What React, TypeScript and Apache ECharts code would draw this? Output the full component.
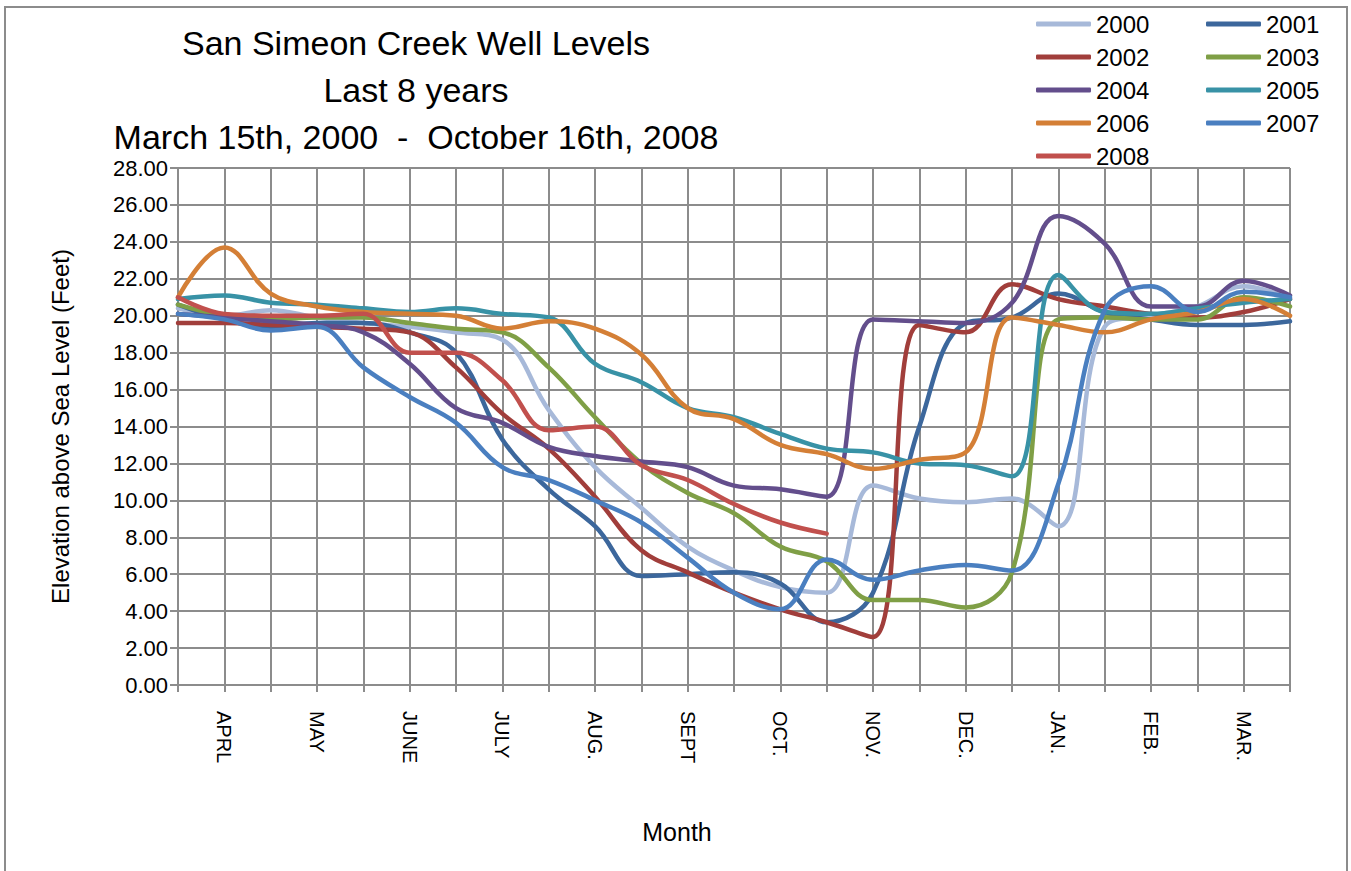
import React, { useEffect, useRef } from "react";
import * as echarts from "echarts";

const monthLabels = ["", "APRL", "", "MAY", "", "JUNE", "", "JULY", "", "AUG.", "", "SEPT", "", "OCT.", "", "NOV.", "", "DEC.", "", "JAN.", "", "FEB.", "", "MAR.", ""];

const y2000 = [20.4, 20.0, 20.3, 19.9, 19.6, 19.4, 19.1, 18.7, 14.9, 11.8, 9.6, 7.5, 6.2, 5.3, 5.0, 10.8, 10.1, 9.9, 10.1, 8.6, 19.4, 20.0, 20.5, 21.6, 20.9];
const y2001 = [20.6, 19.8, 19.4, 19.6, 19.6, 19.1, 18.0, 13.3, 10.6, 8.6, 5.9, 6.0, 6.1, 5.5, 3.4, 5.0, 14.0, 19.6, 19.9, 21.2, 20.2, 19.8, 19.5, 19.5, 19.7];
const y2002 = [19.6, 19.6, 19.5, 19.4, 19.3, 19.1, 17.2, 14.7, 12.8, 10.2, 7.3, 6.1, 5.0, 4.1, 3.4, 2.6, 19.5, 19.1, 21.7, 20.9, 20.5, 20.1, 19.9, 20.2, 20.9];
const y2003 = [20.6, 20.0, 19.8, 19.9, 19.9, 19.6, 19.3, 19.1, 17.2, 14.5, 12.0, 10.4, 9.3, 7.5, 6.7, 4.6, 4.6, 4.2, 6.1, 19.8, 19.9, 19.8, 19.8, 21.0, 20.5];
const y2004 = [20.1, 19.9, 19.7, 19.5, 19.1, 17.4, 15.0, 14.2, 12.9, 12.4, 12.1, 11.8, 10.8, 10.6, 10.2, 19.8, 19.7, 19.6, 20.7, 25.4, 23.9, 20.5, 20.5, 21.9, 21.1];
const y2005 = [20.9, 21.1, 20.7, 20.6, 20.4, 20.2, 20.4, 20.1, 19.9, 17.4, 16.4, 15.0, 14.5, 13.6, 12.8, 12.6, 12.0, 11.9, 11.3, 22.2, 20.2, 20.1, 20.4, 20.7, 20.9];
const y2006 = [21.0, 23.7, 21.2, 20.5, 20.2, 20.1, 20.0, 19.3, 19.7, 19.3, 17.9, 15.0, 14.4, 13.0, 12.5, 11.7, 12.2, 12.6, 19.9, 19.5, 19.1, 19.8, 20.2, 20.9, 20.0];
const y2007 = [20.1, 19.8, 19.2, 19.4, 17.2, 15.6, 14.2, 11.8, 11.1, 10.0, 8.8, 6.9, 5.0, 4.1, 6.8, 5.7, 6.2, 6.5, 6.2, 10.9, 20.3, 21.6, 20.2, 21.3, 21.0];
const y2008 = [21.0, 20.1, 20.0, 20.0, 20.1, 18.0, 18.0, 16.5, 13.8, 14.0, 11.9, 11.1, 9.8, 8.8, 8.2];

const seriesNames = ["2000", "2001", "2002", "2003", "2004", "2005", "2006", "2007", "2008"];
const seriesData = [y2000, y2001, y2002, y2003, y2004, y2005, y2006, y2007, y2008];
const seriesColors = ["#a7b9d9", "#3c679c", "#a13e3b", "#7f9f46", "#634e8c", "#3892a6", "#d47f36", "#4a7fc0", "#c1504d"];

const titleLines = ["San Simeon Creek Well Levels", "Last 8 years", "March 15th, 2000  -  October 16th, 2008"];
const xAxisTitle = "Month";

const FONT = "Liberation Sans, Arial, sans-serif";

export default function App() {
  const ref = useRef<HTMLDivElement>(null);
  useEffect(() => {
    if (!ref.current) return;
    const chart = echarts.init(ref.current, null, { renderer: "svg" });
    const legendText = { fontFamily: FONT, fontSize: 24, color: "#000", lineHeight: 28 };
    chart.setOption({
      animation: false,
      backgroundColor: "#fff",
      title: {
        text: titleLines.join("\n"),
        left: 411,
        top: 14,
        textAlign: "center",
        textStyle: { fontFamily: FONT, fontSize: 34, fontWeight: "normal", color: "#000", lineHeight: 47 },
      },
      legend: [
        {
          data: ["2000", "2002", "2004", "2006", "2008"],
          orient: "vertical",
          left: 1031,
          top: 5,
          itemWidth: 55,
          itemHeight: 5,
          itemGap: 5,
          icon: "roundRect",
          textStyle: legendText,
        },
        {
          data: ["2001", "2003", "2005", "2007"],
          orient: "vertical",
          left: 1201,
          top: 5,
          itemWidth: 55,
          itemHeight: 5,
          itemGap: 5,
          icon: "roundRect",
          textStyle: legendText,
        },
      ],
      grid: { left: 178, right: 61, top: 168, bottom: 186, containLabel: false },
      xAxis: {
        type: "category",
        data: monthLabels,
        boundaryGap: false,
        axisLine: { show: true, lineStyle: { color: "#8c8c8c", width: 2 } },
        axisTick: { show: true, interval: 0, length: 7, lineStyle: { color: "#8c8c8c", width: 2 } },
        axisLabel: { interval: 0, rotate: -90, margin: 26, fontFamily: FONT, fontSize: 20, color: "#000" },
        splitLine: { show: true, interval: 0, lineStyle: { color: "#8c8c8c", width: 2 } },
      },
      yAxis: {
        type: "value",
        min: 0,
        max: 28,
        interval: 2,
        name: "Elevation above Sea Level (Feet)",
        nameLocation: "middle",
        nameGap: 106,
        nameRotate: 90,
        nameTextStyle: { fontFamily: FONT, fontSize: 24, color: "#000" },
        axisLine: { show: true, lineStyle: { color: "#8c8c8c", width: 2 } },
        axisTick: { show: true, length: 8, lineStyle: { color: "#8c8c8c", width: 2 } },
        axisLabel: { margin: 10, fontFamily: FONT, fontSize: 22, color: "#000", formatter: (v: number) => v.toFixed(2) },
        splitLine: { show: true, lineStyle: { color: "#8c8c8c", width: 2 } },
      },
      graphic: [
        {
          type: "rect",
          shape: { x: 5, y: 7, width: 1342, height: 900 },
          style: { fill: "none", stroke: "#8c8c8c", lineWidth: 2 },
          silent: true,
          z: -1,
        },
        {
          type: "text",
          x: 677,
          y: 832,
          style: {
            text: xAxisTitle,
            fontFamily: FONT,
            fontSize: 25,
            fill: "#000",
            align: "center",
            verticalAlign: "middle",
          },
          silent: true,
        },
      ],
      series: seriesNames.map((name, i) => ({
        name,
        type: "line",
        data: seriesData[i],
        smooth: 0.4,
        symbol: "none",
        color: seriesColors[i],
        lineStyle: { width: 4.5, color: seriesColors[i], cap: "round", join: "round" },
      })),
    });
    return () => chart.dispose();
  }, []);
  return <div ref={ref} style={{ position: "absolute", left: 0, top: 0, width: 1351, height: 871 }} />;
}
